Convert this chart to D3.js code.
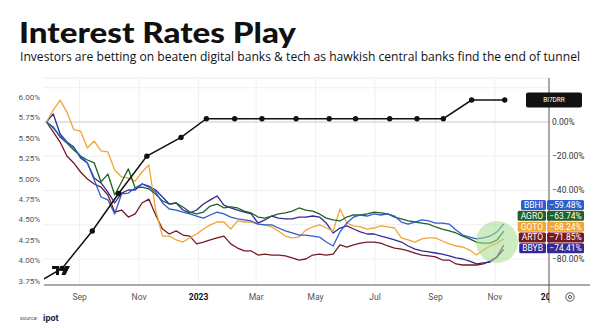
<!DOCTYPE html>
<html lang="en">
<head>
<meta charset="UTF-8" />
<title>Interest Rates Play</title>
<script src="https://cdn.jsdelivr.net/npm/d3@7"></script>
<style>
  * { margin:0; padding:0; box-sizing:border-box }
  body { background:#fff; }
  svg { display:block; font-family:Roboto,"Noto Sans",sans-serif; }
</style>
</head>
<body>
<svg id="chart" width="600" height="328"></svg>
<script>
// ── data ──────────────────────────────────
// weekly % change since start (right scale)
const tickers = ["BBHI","AGRO","GOTO","ARTO","BBYB"];
const BBHI = [0,-3.5,-8.2,-11.7,-15.2,-19.9,-23.9,-33.9,-43.8,-45.5,-53.7,-42.0,-41.5,-38.5,-36.2,-38.0,-40.9,-47.3,-50.8,-51.4,-52.6,-53.7,-54.9,-56.1,-54.3,-52.6,-53.7,-55.5,-56.6,-57.2,-57.8,-59.6,-60.1,-60.1,-61.9,-63.6,-64.8,-66.0,-66.0,-66.6,-67.2,-70.1,-72.4,-64.2,-59.0,-55.5,-54.3,-54.9,-53.7,-54.3,-53.7,-54.9,-58.4,-59.6,-58.4,-57.2,-57.8,-59.0,-59.0,-59.6,-63.1,-66.0,-67.2,-68.3,-67.7,-66.6,-64.2,-59.48];
const AGRO = [0,-2.9,-8.8,-12.3,-16.4,-19.9,-22.2,-23.9,-35.0,-30.4,-42.6,-35.0,-27.4,-38.5,-38.0,-39.1,-42.0,-46.1,-47.9,-47.3,-49.6,-52.6,-53.7,-52.6,-49.1,-47.9,-50.2,-49.6,-50.2,-52.0,-53.1,-55.5,-56.1,-54.9,-53.7,-53.1,-52.0,-50.2,-51.4,-52.0,-53.7,-56.1,-57.2,-57.8,-55.5,-54.3,-54.3,-53.7,-52.6,-53.1,-53.7,-55.5,-56.6,-57.8,-58.4,-59.0,-59.6,-61.3,-62.5,-63.6,-64.8,-66.6,-68.3,-70.1,-70.7,-70.7,-68.9,-63.74];
const GOTO = [0,7.0,12.8,5.8,-4.4,-5.3,-15.2,-11.1,-16.9,-17.5,-28.0,-32.1,-32.7,-34.5,-29.2,-25.1,-51.4,-66.6,-66.6,-68.9,-70.1,-67.7,-65.4,-62.5,-60.1,-58.4,-58.4,-62.5,-57.8,-58.4,-58.4,-59.6,-60.1,-61.3,-63.7,-66.6,-67.7,-67.2,-63.1,-61.3,-60.1,-61.9,-63.7,-50.8,-59.0,-60.7,-61.3,-62.5,-61.9,-60.7,-61.3,-61.9,-67.7,-68.9,-70.1,-68.3,-67.7,-67.7,-69.5,-71.2,-72.4,-73.0,-74.8,-77.7,-74.8,-72.4,-70.7,-68.24];
const ARTO = [0,-5.8,-11.7,-19.9,-23.9,-29.2,-33.3,-36.2,-38.0,-42.6,-52.6,-51.4,-55.5,-53.7,-47.3,-45.0,-54.3,-62.5,-65.4,-63.6,-66.0,-66.6,-71.2,-70.1,-68.9,-67.7,-66.6,-71.2,-73.6,-75.3,-75.3,-77.7,-77.1,-77.7,-77.7,-78.2,-79.4,-80.6,-80.0,-77.7,-77.1,-77.7,-77.1,-71.8,-73.0,-71.8,-70.7,-70.1,-70.1,-70.7,-72.4,-73.6,-74.2,-75.3,-76.5,-77.7,-78.2,-78.8,-80.6,-80.6,-82.9,-83.5,-83.5,-83.5,-82.9,-81.2,-78.8,-71.85];
const BBYB = [0,4.7,-7.0,-11.7,-14.6,-21.0,-23.9,-32.7,-35.6,-40.9,-47.3,-41.5,-39.7,-39.7,-36.2,-37.4,-39.7,-43.8,-47.9,-47.3,-51.4,-53.1,-51.4,-47.9,-45.5,-43.2,-48.5,-50.2,-51.4,-52.6,-53.7,-59.0,-57.2,-54.9,-56.1,-56.6,-56.6,-55.5,-55.5,-54.9,-55.5,-59.0,-64.8,-61.9,-60.7,-62.5,-64.2,-65.4,-65.4,-66.6,-67.7,-68.9,-70.1,-72.4,-74.2,-75.3,-75.9,-76.5,-77.1,-78.2,-79.4,-80.0,-81.2,-82.9,-82.3,-81.8,-78.8,-74.41];

// BI 7-day reverse repo rate (left scale)
const biDates = ["2022-07-12","2022-08-14","2022-09-14","2022-10-11","2022-11-09","2022-12-14","2023-01-09","2023-02-07","2023-03-07","2023-04-11","2023-05-15","2023-06-11","2023-07-16","2023-08-13","2023-09-09","2023-10-08","2023-11-11"];
const biRate  = [3.50,3.75,4.25,4.75,5.25,5.50,5.75,5.75,5.75,5.75,5.75,5.75,5.75,5.75,5.75,6.00,6.00];

const leftTicks  = [3.75,4.00,4.25,4.50,4.75,5.00,5.25,5.50,5.75,6.00];
const rightGrid  = [20,0,-20,-40,-60,-80];
const rightTicks = [0,-20,-40,-80];
// weekly bar that opens each labelled month
const monthTicks = ["2022-09-01","2022-11-01","2023-01-01","2023-03-01","2023-05-01","2023-07-01","2023-09-01","2023-11-01","2023-12-28"];
const monthLabels = ["Sep","Nov","2023","Mar","May","Jul","Sep","Nov","2024"];

const colors = { BBHI:"#2d5ecb", AGRO:"#1f6128", GOTO:"#f2a436", ARTO:"#731a25", BBYB:"#322a92" };
const series = { BBHI, AGRO, GOTO, ARTO, BBYB };

// ── layout ────────────────────────────────
const svg = d3.select("#chart");
const L = 44, R = 549, T = 78, B = 285;
const parse = d3.timeParse("%Y-%m-%d");

const x = d3.scaleTime()
  .domain([parse("2022-09-01"), parse("2023-11-01")])
  .range([79.6, 495]);
const yR  = d3.scaleLinear().domain([0,-80]).range([122,259]);
const yL  = d3.scaleLinear().domain([3.75,6.0]).range([281,97]);
const yBI = d3.scaleLinear().domain([3.75,6.0]).range([268.4,100]);

const weeks = d3.range(BBHI.length).map(i => d3.timeDay.offset(parse("2022-07-29"), 7*i));

svg.append("defs").append("clipPath").attr("id","plot")
  .append("rect").attr("x",L).attr("y",T).attr("width",R-L).attr("height",B-T);
svg.select("defs").append("clipPath").attr("id","xlab")
  .append("rect").attr("x",0).attr("y",B).attr("width",R).attr("height",30);

// ── title ─────────────────────────────────
svg.append("text").attr("x",19).attr("y",43)
  .attr("font-family","Lato, 'Open Sans', sans-serif").attr("font-weight",900)
  .attr("font-size",29).attr("fill","#111")
  .attr("textLength",277).attr("lengthAdjust","spacingAndGlyphs")
  .text("Interest Rates Play");
svg.append("text").attr("x",20).attr("y",61)
  .attr("font-family","'Open Sans', sans-serif").attr("font-size",12)
  .attr("fill","#111")
  .attr("textLength",560).attr("lengthAdjust","spacingAndGlyphs")
  .text("Investors are betting on beaten digital banks & tech as hawkish central banks find the end of tunnel");

// ── grid ──────────────────────────────────
const grid = svg.append("g");
grid.append("line").attr("x1",L).attr("x2",R).attr("y1",T).attr("y2",T)
  .attr("stroke","#ececec");
grid.selectAll(".vg").data(monthTicks).join("line")
  .attr("x1",d=>x(parse(d))).attr("x2",d=>x(parse(d)))
  .attr("y1",T).attr("y2",B).attr("stroke","#f0f0f0")
  .attr("clip-path","url(#plot)");
grid.selectAll(".hg").data(rightGrid).join("line")
  .attr("x1",L).attr("x2",R).attr("y1",d=>yR(d)).attr("y2",d=>yR(d))
  .attr("stroke",d=>d===0?"#c9c9c9":"#efefef")
  .attr("stroke-width",d=>d===0?1.2:1);

// ── stock lines ───────────────────────────
const line = d3.line().x((d,i)=>x(weeks[i])).y(d=>yR(d));
const plot = svg.append("g").attr("clip-path","url(#plot)");
["ARTO","BBYB","GOTO","AGRO","BBHI"].forEach(t=>{
  plot.append("path").datum(series[t])
    .attr("d",line).attr("fill","none")
    .attr("stroke",colors[t]).attr("stroke-width",1.3)
    .attr("stroke-linejoin","round");
});

// ── BI rate line ──────────────────────────
const bi = biDates.map((d,i)=>({date:parse(d), v:biRate[i]}));
plot.append("path").datum(bi)
  .attr("d",d3.line().x(d=>x(d.date)).y(d=>yBI(d.v)))
  .attr("fill","none").attr("stroke","#111").attr("stroke-width",1.5);
plot.selectAll(".dot").data(bi).join("circle")
  .attr("cx",d=>x(d.date)).attr("cy",d=>yBI(d.v)).attr("r",2.7).attr("fill","#111");

// highlight circle
svg.append("circle")
  .attr("cx",x(parse("2023-11-03"))).attr("cy",yR(-70)).attr("r",21)
  .attr("fill","#a5dd8e").attr("opacity",0.55);

// ── axes ──────────────────────────────────
svg.append("line").attr("x1",L).attr("x2",590).attr("y1",B).attr("y2",B)
  .attr("stroke","#555").attr("stroke-width",1);
svg.append("line").attr("x1",R).attr("x2",R).attr("y1",T).attr("y2",303)
  .attr("stroke","#555").attr("stroke-width",1);

svg.append("g").selectAll("text").data(leftTicks).join("text")
  .attr("x",40).attr("y",d=>yL(d)).attr("dy","0.35em")
  .attr("text-anchor","end").attr("font-size",8).attr("fill","#555")
  .text(d=>d.toFixed(2)+"%");

svg.append("g").selectAll("text").data(rightTicks).join("text")
  .attr("x",552).attr("y",d=>yR(d)).attr("dy","0.35em")
  .attr("font-size",8.5).attr("fill","#333")
  .text(d=>d3.format(".2f")(d)+"%");

svg.append("g").attr("clip-path","url(#xlab)")
  .selectAll("text").data(monthTicks).join("text")
  .attr("x",d=>x(parse(d))).attr("y",297).attr("dy","0.35em")
  .attr("text-anchor","middle").attr("font-size",8.5)
  .attr("font-weight",(d,i)=>/^\d/.test(monthLabels[i])?700:400)
  .attr("fill",(d,i)=>/^\d/.test(monthLabels[i])?"#111":"#555")
  .text((d,i)=>monthLabels[i]);

// settings icon
const gear = svg.append("g").attr("transform","translate(570,297)");
gear.append("circle").attr("r",4.2).attr("fill","none").attr("stroke","#444").attr("stroke-width",0.9);
gear.append("circle").attr("r",1.6).attr("fill","none").attr("stroke","#444").attr("stroke-width",0.9);

// ── price labels ──────────────────────────
const last = tickers.map(t=>({t, v:series[t][series[t].length-1]}))
  .sort((a,b)=>b.v-a.v);
for (let k=last.length-1;k>=0;k--){
  const y0 = yR(last[k].v) - 1.2;
  last[k].y = k===last.length-1 ? y0 : Math.min(y0, last[k+1].y-10.8);
}
const lab = svg.append("g");
last.forEach(d=>{
  const g = lab.append("g").attr("transform",`translate(0,${d.y})`);
  const tt = g.append("text").attr("font-size",8.5).attr("fill","#fff")
    .attr("text-anchor","middle").attr("dy","0.35em").text(d.t);
  const w = tt.node().getComputedTextLength()+6;
  g.insert("rect","text").attr("x",546-w).attr("y",-5).attr("width",w).attr("height",10)
    .attr("rx",1.5).attr("fill",colors[d.t]);
  tt.attr("x",546-w/2);
  g.append("rect").attr("x",547).attr("y",-5).attr("width",37).attr("height",10)
    .attr("rx",1.5).attr("fill",colors[d.t]);
  g.append("text").attr("x",565.5).attr("dy","0.35em").attr("text-anchor","middle")
    .attr("font-size",8.5).attr("fill","#fff").text(d3.format(".2f")(d.v)+"%");
});

// BI7DRR tag
const tag = svg.append("g").attr("transform",`translate(0,${yBI(6.0)})`);
tag.append("rect").attr("x",526).attr("y",-7.5).attr("width",56).attr("height",15)
  .attr("rx",2).attr("fill","#111");
tag.append("text").attr("x",554).attr("dy","0.35em").attr("text-anchor","middle")
  .attr("font-size",6.5).attr("fill","#fff").text("BI7DRR");

// TradingView mark
const tv = svg.append("g").attr("transform","translate(52,266)").attr("fill","#111");
tv.append("path").attr("d","M0,0 H7 V9 H4 V3 H0 Z");
tv.append("circle").attr("cx",9.5).attr("cy",1.8).attr("r",1.8);
tv.append("path").attr("d","M13,0 H18 L13.5,9 H9.5 Z");

// source
svg.append("text").attr("x",20).attr("y",320).attr("font-size",5.5).attr("fill","#555")
  .text("source:");
svg.append("text").attr("x",43).attr("y",321).attr("font-size",9).attr("font-weight",700)
  .attr("fill","#1b2440").text("ipot");
</script>
</body>
</html>
